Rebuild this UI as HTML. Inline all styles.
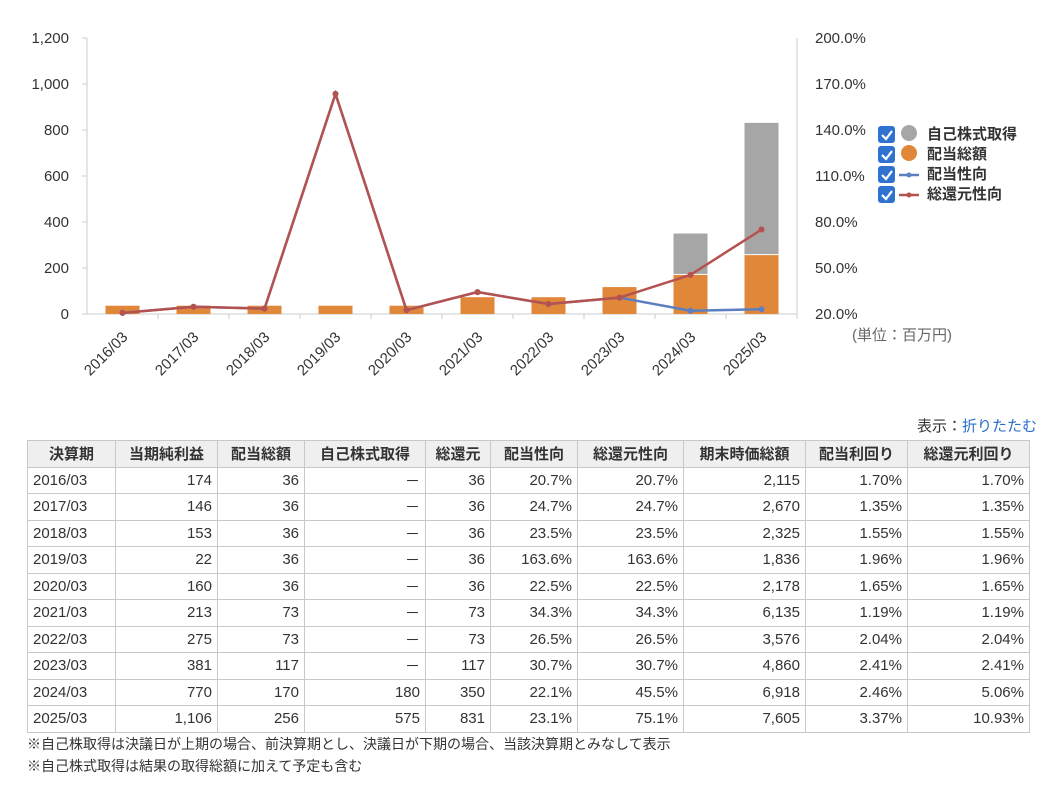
<!DOCTYPE html>
<html><head><meta charset="utf-8">
<style>
body{margin:0;background:#fff;font-family:"Liberation Sans","Noto Sans CJK JP",sans-serif;color:#333;}
#wrap{position:relative;width:1056px;height:794px;overflow:hidden}
table{position:absolute;left:27px;top:440px;border-collapse:collapse;font-size:15px;table-layout:fixed;width:1002px}
td,th{border:1px solid #c8c8c8;height:25.5px;padding:0 5px;text-align:right;white-space:nowrap}
th{background:#efefef;font-weight:bold;text-align:center}
td:first-child{text-align:left}
.note{position:absolute;left:27px;font-size:14px;color:#333}
</style></head><body>
<div id="wrap">
<svg id="chart" width="1056" height="400" style="position:absolute;left:0;top:0;font-family:'Liberation Sans','Noto Sans CJK JP',sans-serif"></svg>
<div style="position:absolute;right:19px;top:415px;font-size:15px">表示：<span style="color:#2a6fc9">折りたたむ</span></div>
<table>
<colgroup><col style="width:88px"><col style="width:102px"><col style="width:87px"><col style="width:121px"><col style="width:65px"><col style="width:87px"><col style="width:106px"><col style="width:122px"><col style="width:102px"><col style="width:122px"></colgroup>
<thead><tr><th>決算期</th><th>当期純利益</th><th>配当総額</th><th>自己株式取得</th><th>総還元</th><th>配当性向</th><th>総還元性向</th><th>期末時価総額</th><th>配当利回り</th><th>総還元利回り</th></tr></thead>
<tbody id="tb"></tbody></table>
<div class="note" style="top:734px">※自己株取得は決議日が上期の場合、前決算期とし、決議日が下期の場合、当該決算期とみなして表示</div>
<div class="note" style="top:756px">※自己株式取得は結果の取得総額に加えて予定も含む</div>
</div>
<script>
const categories=["2016/03","2017/03","2018/03","2019/03","2020/03","2021/03","2022/03","2023/03","2024/03","2025/03"];
const dividends=[36,36,36,36,36,73,73,117,170,256];
const buybacks=[0,0,0,0,0,0,0,0,180,575];
const payoutRatio=[20.7,24.7,23.5,163.6,22.5,34.3,26.5,30.7,22.1,23.1];
const totalReturnRatio=[20.7,24.7,23.5,163.6,22.5,34.3,26.5,30.7,45.5,75.1];
const leftTicks=[0,200,400,600,800,1000,1200];
const rightTicks=[20,50,80,110,140,170,200];
const tableRows=[
["2016/03","174","36","－","36","20.7%","20.7%","2,115","1.70%","1.70%"],
["2017/03","146","36","－","36","24.7%","24.7%","2,670","1.35%","1.35%"],
["2018/03","153","36","－","36","23.5%","23.5%","2,325","1.55%","1.55%"],
["2019/03","22","36","－","36","163.6%","163.6%","1,836","1.96%","1.96%"],
["2020/03","160","36","－","36","22.5%","22.5%","2,178","1.65%","1.65%"],
["2021/03","213","73","－","73","34.3%","34.3%","6,135","1.19%","1.19%"],
["2022/03","275","73","－","73","26.5%","26.5%","3,576","2.04%","2.04%"],
["2023/03","381","117","－","117","30.7%","30.7%","4,860","2.41%","2.41%"],
["2024/03","770","170","180","350","22.1%","45.5%","6,918","2.46%","5.06%"],
["2025/03","1,106","256","575","831","23.1%","75.1%","7,605","3.37%","10.93%"]];
const NS="http://www.w3.org/2000/svg";
const svg=document.getElementById('chart');
const X0=87,X1=797,Y0=314,Y1=38;
const bw=(X1-X0)/categories.length;
const xc=i=>X0+bw*(i+0.5);
const yL=v=>Y0-(v/1200)*(Y0-Y1);
const yR=v=>Y0-((v-20)/180)*(Y0-Y1);
function el(t,a,txt){const e=document.createElementNS(NS,t);for(const k in a)e.setAttribute(k,a[k]);if(txt!==undefined)e.textContent=txt;svg.appendChild(e);return e;}
let e;
e=el('line',{x1:X0,y1:Y1,x2:X0,y2:Y0,stroke:'#ccc'});

e=el('line',{x1:X1,y1:Y1,x2:X1,y2:Y0,stroke:'#ccc'});

e=el('line',{x1:X0,y1:Y0,x2:X1,y2:Y0,stroke:'#ccc'});

leftTicks.forEach(v=>{
 e=el('text',{x:69,y:yL(v)+5,'text-anchor':'end','font-size':15,fill:'#333'},v.toLocaleString('en-US'));
 
 e=el('line',{x1:X0-5,y1:yL(v),x2:X0,y2:yL(v),stroke:'#ccc'});
 
});
rightTicks.forEach(v=>{
 e=el('text',{x:815,y:yR(v)+5,'font-size':15,fill:'#333'},v.toFixed(1)+'%');
 
});
e=el('text',{x:852,y:340,'font-size':15,fill:'#666'},'(単位：百万円)');

categories.forEach((c,i)=>{
 const x=xc(i);
 e=el('line',{x1:X0+bw*(i+1),y1:Y0,x2:X0+bw*(i+1),y2:Y0+5,stroke:'#ccc'});
 
 e=el('text',{x:x+6,y:Y0+24,'text-anchor':'end','font-size':15,fill:'#333',transform:`rotate(-45 ${x+6} ${Y0+24})`},c);
 
 e=el('rect',{x:x-17,y:yL(dividends[i]),width:34,height:Y0-yL(dividends[i]),fill:'#e0873a'});
 
 if(buybacks[i]>0){
  e=el('rect',{x:x-17,y:yL(dividends[i]+buybacks[i]),width:34,height:yL(dividends[i])-yL(dividends[i]+buybacks[i])-1,fill:'#a6a6a6'});
  
 }
});
function line(data,color,name){
 e=el('polyline',{points:data.map((v,i)=>xc(i)+','+yR(v)).join(' '),fill:'none',stroke:color,'stroke-width':2.5});
 
 data.forEach((v,i)=>{e=el('circle',{cx:xc(i),cy:yR(v),r:3,fill:color});
 });
}
line(payoutRatio,'#5b7fc0','payout-ratio');
line(totalReturnRatio,'#b5524f','total-return-ratio');
const legend=[['自己株式取得','#a6a6a6','dot'],['配当総額','#e0873a','dot'],['配当性向','#5b7fc0','line'],['総還元性向','#b5524f','line']];
legend.forEach((l,i)=>{
 const y=134+i*20;
 e=el('rect',{x:878,y:y-8,width:17,height:17,rx:3,fill:'#2f72d0'});
 
 el('path',{d:`M${882} ${y+1} l4 4 l6 -8`,stroke:'#fff','stroke-width':2.2,fill:'none'});
 if(l[2]==='dot'){e=el('circle',{cx:909,cy:y-1,r:8,fill:l[1]});}
 else{e=el('line',{x1:899,y1:y+1,x2:919,y2:y+1,stroke:l[1],'stroke-width':2.5});el('circle',{cx:909,cy:y+1,r:2.5,fill:l[1]});}
 
 e=el('text',{x:927,y:y+5,'font-size':15,'font-weight':'bold',fill:'#333'},l[0]);
 
});
const tb=document.getElementById('tb');
tableRows.forEach(r=>{const tr=document.createElement('tr');
 
 
 r.forEach(c=>{const td=document.createElement('td');td.textContent=c;tr.appendChild(td);});tb.appendChild(tr);});
</script>
</body></html>
